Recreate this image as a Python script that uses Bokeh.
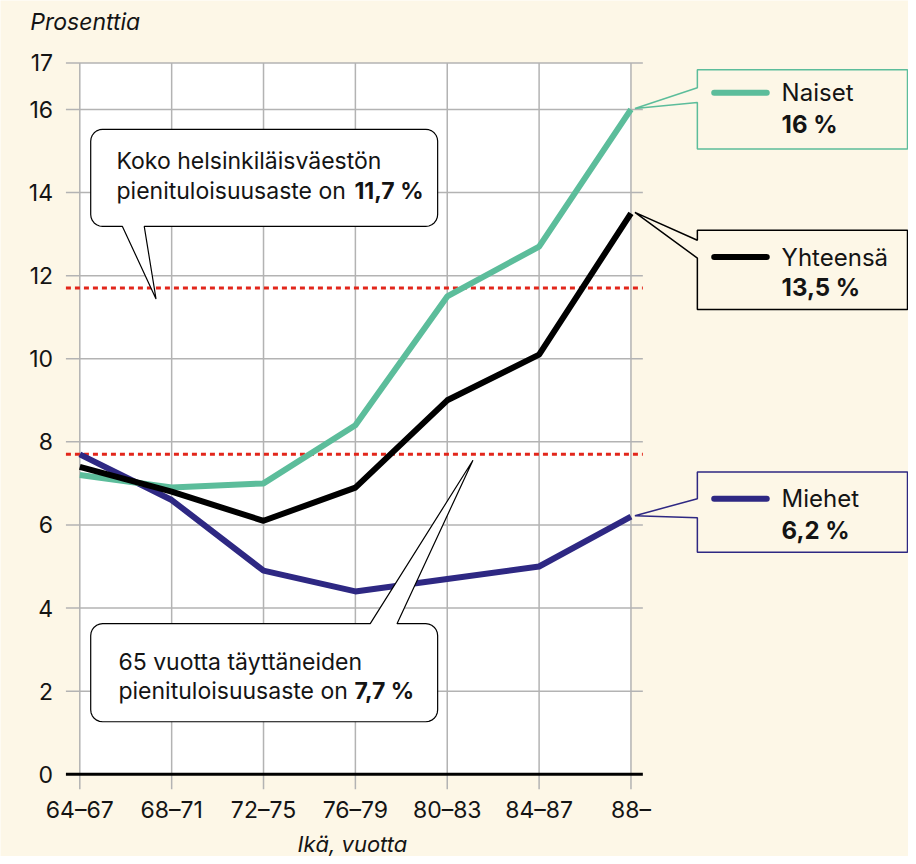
import math
from bokeh.plotting import figure
from bokeh.models import Range1d, Label
from bokeh.core.properties import value
from bokeh.embed import file_html
from bokeh.resources import INLINE

# ---------------- data ----------------
categories = ["64–67", "68–71", "72–75", "76–79", "80–83", "84–87", "88–"]
naiset = [7.2, 6.9, 7.0, 8.4, 11.5, 12.7, 16.0]
yhteensa = [7.4, 6.8, 6.1, 6.9, 9.0, 10.1, 13.5]
miehet = [7.7, 6.6, 4.9, 4.4, 4.7, 5.0, 6.2]
y_ticks = [0, 2, 4, 6, 8, 10, 12, 14, 16]
y_top_label = "17"
ref_all = 11.7
ref_65 = 7.7
series_names = ["Naiset", "Yhteensä", "Miehet"]
series_end_labels = ["16 %", "13,5 %", "6,2 %"]
callout_all = ["Koko helsinkiläisväestön", "pienituloisuusaste on", "11,7 %"]
callout_65 = ["65 vuotta täyttäneiden", "pienituloisuusaste on", "7,7 %"]
y_title = "Prosenttia"
x_title = "Ikä, vuotta"

# ---------------- styles / layout ----------------
CREAM = "#FDF7E7"
GREEN = "#5CBD9B"
NAVY = "#2E2883"
BLACK = "#000000"
RED = "#E2261B"
GRID = "#B3B3B3"
TXT = "#141414"
FONT = "Inter"

W, H = 908, 856
REF_W, REF_H = 916, 864                     # layout measured in these units
PLOT_TOP, PLOT_BOTTOM = 63, 796             # white area top, tick-mark bottom
AXIS_LEFT, GRID_RIGHT = 66, 648
X0PX, PXX = 80, 92.67                       # category 0 position, px per category
Y0PX, PXY = 781, 41.94                      # y=0 position, px per unit


def dx(sx):
    return (sx - X0PX) / PXX


def dy(sy):
    return (Y0PX - sy) / PXY


def px_x(v):
    return X0PX + v * PXX


def px_y(v):
    return Y0PX - v * PXY


p = figure(width=W, height=H, output_backend="svg", toolbar_location=None,
           x_range=Range1d(dx(0), dx(REF_W)), y_range=Range1d(dy(REF_H), dy(0)),
           x_axis_location=None, y_axis_location=None, min_border=0)
p.background_fill_color = CREAM
p.border_fill_color = CREAM
p.outline_line_color = None
p.xgrid.visible = False
p.ygrid.visible = False

ytop = dy(PLOT_TOP)
n = len(categories)
xs = list(range(n))

# white plotting area
p.quad(left=0, right=n - 1, bottom=0, top=ytop, fill_color="white", line_color=None)

# grid lines
h_levels = y_ticks[1:] + [ytop]
p.segment(x0=[dx(AXIS_LEFT)] * len(h_levels), x1=[dx(GRID_RIGHT)] * len(h_levels),
          y0=h_levels, y1=h_levels, line_color=GRID, line_width=1.5)
p.segment(x0=xs, x1=xs, y0=[dy(PLOT_BOTTOM)] * n, y1=[ytop] * n,
          line_color=GRID, line_width=1.5)

# reference lines
for rv in (ref_all, ref_65):
    p.segment(x0=[dx(AXIS_LEFT)], x1=[dx(GRID_RIGHT)], y0=[rv], y1=[rv],
              line_color=RED, line_width=3, line_dash="5 4")

# zero line
p.segment(x0=[dx(AXIS_LEFT)], x1=[dx(GRID_RIGHT)], y0=[0], y1=[0],
          line_color=BLACK, line_width=3)

# data lines
p.line(xs, miehet, line_color=NAVY, line_width=6, line_join="round")
p.line(xs, naiset, line_color=GREEN, line_width=6, line_join="round")
p.line(xs, yhteensa, line_color=BLACK, line_width=6, line_join="round")

# tick labels
y_tick_pos = y_ticks + [ytop]
y_tick_txt = [str(t) for t in y_ticks] + [y_top_label]
p.text(x=[dx(53)] * len(y_tick_pos), y=y_tick_pos, text=y_tick_txt,
       text_font=value(FONT), text_font_size="23px", text_color=TXT,
       text_align="right", text_baseline="middle")
p.text(x=xs, y=[dy(817)] * n, text=categories,
       text_font=value(FONT), text_font_size="23px", text_color=TXT,
       text_align="center", text_baseline="middle")


# ---------------- callout helpers ----------------
def box_path(l, t, r, b, rad, edge=None, ptr=None):
    pts = []

    def arc(cx, cy, a0, a1):
        if rad == 0:
            pts.append((cx, cy))
            return
        for k in range(7):
            a = math.radians(a0 + (a1 - a0) * k / 6)
            pts.append((cx + rad * math.cos(a), cy + rad * math.sin(a)))

    arc(l + rad, t + rad, 180, 270)
    if edge == "top":
        pts.extend(ptr)
    arc(r - rad, t + rad, 270, 360)
    if edge == "right":
        pts.extend(ptr)
    arc(r - rad, b - rad, 0, 90)
    if edge == "bottom":
        pts.extend(ptr)
    arc(l + rad, b - rad, 90, 180)
    if edge == "left":
        pts.extend(ptr)
    return [dx(a) for a, _ in pts], [dy(c) for _, c in pts]


def add_text(text, sx, sy, size="23px", bold=False, italic=False, align="left"):
    style = "bold" if bold else ("italic" if italic else "normal")
    p.add_layout(Label(x=dx(sx), y=dy(sy), text=text, text_font=FONT,
                       text_font_size=size, text_font_style=style, text_color=TXT,
                       text_align=align, text_baseline="middle"))


# callout: whole population
bx, by = box_path(91, 130, 441, 228, 12, "bottom",
                  [(145, 228), (px_x(0.83), px_y(ref_all) + 11), (123, 228)])
p.patch(bx, by, fill_color="white", line_color=BLACK, line_width=1.2)
add_text(callout_all[0], 117, 162)
add_text(callout_all[1], 117, 192)
add_text(callout_all[2], 357, 192, bold=True)

# callout: 65+
bx, by = box_path(91, 629, 441, 728, 12, "top",
                  [(373, 629), (px_x(4.28), px_y(ref_65) + 6), (400, 629)])
p.patch(bx, by, fill_color="white", line_color=BLACK, line_width=1.2)
add_text(callout_65[0], 119, 668)
add_text(callout_65[1], 119, 697)
add_text(callout_65[2], 357, 697, bold=True)

# end labels (legend boxes)
legend_specs = [
    (naiset, GREEN, 70, 150, (88, 103), 23, 55),
    (yhteensa, BLACK, 232, 312, (242, 260), 27, 58),
    (miehet, NAVY, 476, 557, (503, 522), 27, 59),
]
for i, (ser, col, t, b, (pa, pb), o1, o2) in enumerate(legend_specs):
    tip = (px_x(n - 1) + 4, px_y(ser[-1]) - 1)
    bx, by = box_path(703, t, 915, b, 0, "left", [(703, pb), tip, (703, pa)])
    p.patch(bx, by, fill_color=CREAM, line_color=col, line_width=1.5)
    p.line([dx(720), dx(773)], [dy(t + o1), dy(t + o1)], line_color=col,
           line_width=6, line_cap="round")
    add_text(series_names[i], 788, t + o1, size="24px")
    add_text(series_end_labels[i], 788, t + o2, size="24px", bold=True)

# titles
add_text(y_title, 30, 22, size="23px", italic=True)
add_text(x_title, 355, 851, size="22px", italic=True, align="center")

open("out.html", "w").write(file_html(p, INLINE))
